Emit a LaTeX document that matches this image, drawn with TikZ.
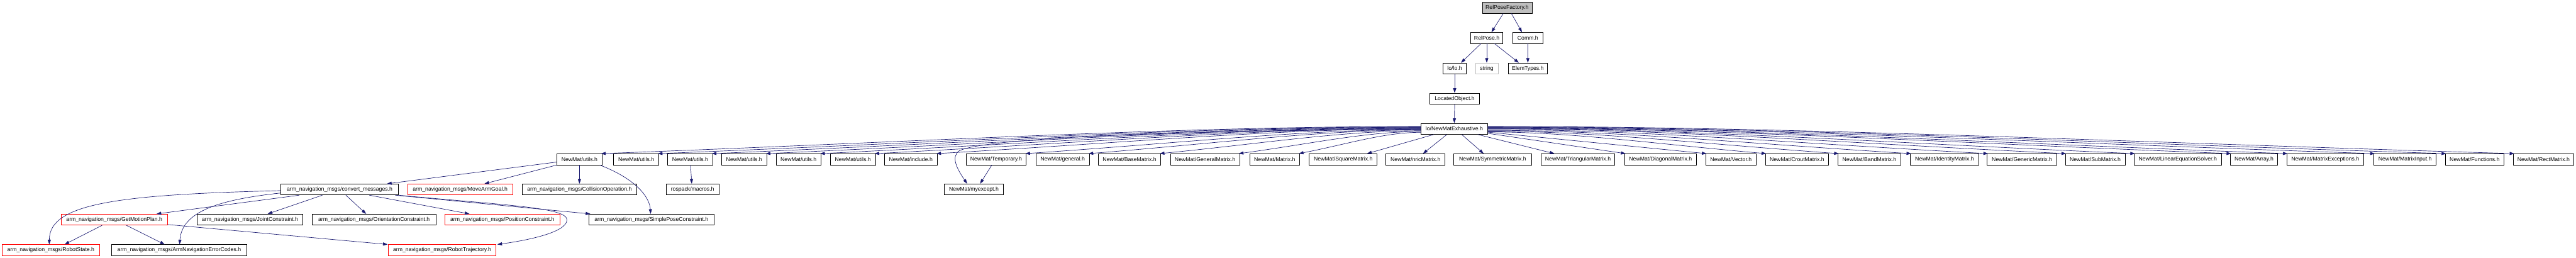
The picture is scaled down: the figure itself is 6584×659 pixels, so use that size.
\documentclass[tikz,border=0pt]{standalone}
\usepackage{fontspec}
\setmainfont{Liberation Sans}
\usetikzlibrary{arrows.meta,calc}
\definecolor{edgeblue}{HTML}{191970}
\definecolor{rootgrey}{HTML}{BFBFBF}
\begin{document}
\begin{tikzpicture}[x=1pt,y=-1pt,
 box/.style={draw=black,line width=1.2pt,minimum height=28pt,inner sep=0pt,font={\fontsize{14}{16}\selectfont}},
 redbox/.style={box,draw=red},
 greybox/.style={box,draw=rootgrey},
 rootbox/.style={box,fill=rootgrey},
 edge/.style={draw=edgeblue,line width=1.1pt,-{Triangle[length=12pt,width=8pt]}}]
\useasboundingbox (0,0) rectangle (6584,659);
% rows 0-4
\node[rootbox,minimum width=127pt] (rpf) at (3852,20) {RelPoseFactory.h};
\node[box,minimum width=82pt] (rp) at (3800,97) {RelPose.h};
\node[box,minimum width=77pt] (comm) at (3905,97) {Comm.h};
\node[box,minimum width=59pt] (io) at (3718,175) {lo/lo.h};
\node[greybox,minimum width=58pt] (str) at (3800,175) {string};
\node[box,minimum width=101pt] (et) at (3905,175) {ElemTypes.h};
\node[box,minimum width=127pt] (lo) at (3718,252) {LocatedObject.h};
\node[box,minimum width=170pt] (ex) at (3717,329) {lo/NewMatExhaustive.h};
% row 5
\node[box,minimum width=115pt] (utils1) at (1481,407) {NewMat/utils.h};
\node[box,minimum width=115pt] (utils2) at (1626,407) {NewMat/utils.h};
\node[box,minimum width=115pt] (utils3) at (1764,407) {NewMat/utils.h};
\node[box,minimum width=115pt] (utils4) at (1902,407) {NewMat/utils.h};
\node[box,minimum width=115pt] (utils5) at (2041,407) {NewMat/utils.h};
\node[box,minimum width=115pt] (utils6) at (2180,407) {NewMat/utils.h};
\node[box,minimum width=135pt] (inc) at (2328,407) {NewMat/include.h};
\node[box,minimum width=154pt] (tmp) at (2546,407) {NewMat/Temporary.h};
\node[box,minimum width=137pt] (gen) at (2716,407) {NewMat/general.h};
\node[box,minimum width=159pt] (bm) at (2887,407) {NewMat/BaseMatrix.h};
\node[box,minimum width=177pt] (gm) at (3080,407) {NewMat/GeneralMatrix.h};
\node[box,minimum width=128pt] (mat) at (3258,407) {NewMat/Matrix.h};
\node[box,minimum width=174pt] (sq) at (3433,407) {NewMat/SquareMatrix.h};
\node[box,minimum width=151pt] (nric) at (3618,407) {NewMat/nricMatrix.h};
\node[box,minimum width=198pt] (sym) at (3815,407) {NewMat/SymmetricMatrix.h};
\node[box,minimum width=188pt] (tri) at (4033,407) {NewMat/TriangularMatrix.h};
\node[box,minimum width=183pt] (diag) at (4244,407) {NewMat/DiagonalMatrix.h};
\node[box,minimum width=129pt] (vec) at (4424,407) {NewMat/Vector.h};
\node[box,minimum width=162pt] (crout) at (4593,407) {NewMat/CroutMatrix.h};
\node[box,minimum width=161pt] (band) at (4778,407) {NewMat/BandMatrix.h};
\node[box,minimum width=175pt] (ident) at (4970,407) {NewMat/IdentityMatrix.h};
\node[box,minimum width=178pt] (generic) at (5168,407) {NewMat/GenericMatrix.h};
\node[box,minimum width=153pt] (sub) at (5355,407) {NewMat/SubMatrix.h};
\node[box,minimum width=223pt] (lin) at (5566,407) {NewMat/LinearEquationSolver.h};
\node[box,minimum width=121pt] (arr) at (5761,407) {NewMat/Array.h};
\node[box,minimum width=197pt] (mexc) at (5943,407) {NewMat/MatrixExceptions.h};
\node[box,minimum width=159pt] (minp) at (6147,407) {NewMat/MatrixInput.h};
\node[box,minimum width=150pt] (func) at (6325,407) {NewMat/Functions.h};
\node[box,minimum width=154pt] (rect) at (6501,407) {NewMat/RectMatrix.h};
% row 6
\node[box,minimum width=300pt] (conv) at (868,484) {arm\_navigation\_msgs/convert\_messages.h};
\node[redbox,minimum width=269pt] (mag) at (1176,484) {arm\_navigation\_msgs/MoveArmGoal.h};
\node[box,minimum width=293pt] (col) at (1481,484) {arm\_navigation\_msgs/CollisionOperation.h};
\node[box,minimum width=135pt] (ros) at (1770,484) {rospack/macros.h};
\node[box,minimum width=151pt] (myex) at (2489,484) {NewMat/myexcept.h};
% row 7
\node[redbox,minimum width=272pt] (gmp) at (292,561) {arm\_navigation\_msgs/GetMotionPlan.h};
\node[box,minimum width=271pt] (jc) at (639,561) {arm\_navigation\_msgs/JointConstraint.h};
\node[box,minimum width=316pt] (oc) at (956,561) {arm\_navigation\_msgs/OrientationConstraint.h};
\node[redbox,minimum width=294pt] (pc) at (1284,561) {arm\_navigation\_msgs/PositionConstraint.h};
\node[box,minimum width=320pt] (spc) at (1665,561) {arm\_navigation\_msgs/SimplePoseConstraint.h};
% row 8
\node[redbox,minimum width=249pt] (rs) at (130,639) {arm\_navigation\_msgs/RobotState.h};
\node[box,minimum width=345pt] (anec) at (458,639) {arm\_navigation\_msgs/ArmNavigationErrorCodes.h};
\node[redbox,minimum width=275pt] (rt) at (1130,639) {arm\_navigation\_msgs/RobotTrajectory.h};
% top edges
\draw[edge] ([xshift=-10pt]rpf.south) -- ([xshift=12pt]rp.north);
\draw[edge] ([xshift=11pt]rpf.south) -- ([xshift=-15pt]comm.north);
\draw[edge] ([xshift=-15pt]rp.south) -- ([xshift=16pt]io.north);
\draw[edge] (rp.south) -- (str.north);
\draw[edge] ([xshift=20pt]rp.south) -- ([xshift=-23pt]et.north);
\draw[edge] (comm.south) -- (et.north);
\draw[edge] (io.south) -- (lo.north);
\draw[edge] (lo.south) -- (ex.north);
% fan to the left
\foreach \t/\dy in {utils1/6,utils2/5,utils3/4,utils4/3,utils5/2,utils6/1,inc/0,tmp/-2,gen/-3,bm/-5,gm/-7,mat/-9}{
  \draw[edge] let \p1=([yshift=\dy pt]ex.west), \p2=([xshift=-3pt]\t.north east) in
    (\p1) .. controls ({\x1+0.3*(\x2-\x1)},\y1) and ({\x2-0.4*(\x2-\x1)},{\y2+0.45*(\y1-\y2)}) .. (\p2);
}
% fan to the right
\foreach \t/\dy in {crout/-8,band/-6,ident/-4,generic/-2,sub/0,lin/1,arr/2,mexc/3,minp/4,func/5,rect/6}{
  \draw[edge] let \p1=([yshift=\dy pt]ex.east), \p2=([xshift=3pt]\t.north west) in
    (\p1) .. controls ({\x1+0.3*(\x2-\x1)},\y1) and ({\x2-0.4*(\x2-\x1)},{\y2+0.45*(\y1-\y2)}) .. (\p2);
}
% near targets
\draw[edge] ([xshift=33pt]ex.south west) -- ([xshift=61pt]sq.north);
\draw[edge] ([xshift=-19pt]ex.south) -- ([xshift=19pt]nric.north);
\draw[edge] ([xshift=19pt]ex.south) -- ([xshift=-23pt]sym.north);
\draw[edge] ([xshift=60pt]ex.south) -- ([xshift=-60pt]tri.north);
\draw[edge] ([yshift=3pt]ex.south east) -- ([xshift=3pt]diag.north west);
\draw[edge] ([yshift=6pt]ex.south east) -- ([xshift=3pt]vec.north west);
% to myexcept
\draw[edge] ([yshift=-1pt]ex.west) .. controls (3000,334) and (2520,352) .. (2452,385)
  .. controls (2430,400) and (2445,430) .. ([xshift=-17pt]myex.north);
\draw[edge] ([xshift=-11pt]tmp.south) -- ([xshift=16pt]myex.north);
% utils edges
\draw[edge] ([yshift=-7pt]utils1.west) -- ([xshift=121pt]conv.north);
\draw[edge] (utils1.south west) -- ([xshift=62pt]mag.north);
\draw[edge] (utils1.south) -- (col.north);
\draw[edge] ([xshift=52pt]utils1.south) .. controls (1620,455) and (1660,500) .. ([xshift=-2pt]spc.north);
\draw[edge] ([xshift=1pt]utils3.south) -- ([xshift=-2pt]ros.north);
% convert_messages edges
\draw[edge] ([yshift=-3pt]conv.west) .. controls (300,497) and (126,520) .. ([xshift=-4pt]rs.north);
\draw[edge] ([yshift=-9pt]conv.west) .. controls (560,510) and (465,540) .. ([xshift=1pt]anec.north);
\draw[edge] ([xshift=-103pt]conv.south) -- ([xshift=108pt]gmp.north);
\draw[edge] ([xshift=-44pt]conv.south) -- ([xshift=45pt]jc.north);
\draw[edge] ([xshift=16pt]conv.south) -- ([xshift=-20pt]oc.north);
\draw[edge] ([xshift=76pt]conv.south) -- ([xshift=-84pt]pc.north);
\draw[edge] ([xshift=142pt]conv.south) -- ([xshift=-156pt]spc.north);
\draw[edge] (conv.south east) .. controls (1300,525) and (1450,530) .. (1449,562)
  .. controls (1448,595) and (1340,615) .. ([xshift=3pt]rt.north east);
% GetMotionPlan edges
\draw[edge] ([xshift=-31pt]gmp.south) -- ([xshift=35pt]rs.north);
\draw[edge] ([xshift=31pt]gmp.south) -- ([xshift=-37pt]anec.north);
\draw[edge] ([yshift=2pt]gmp.south east) -- ([xshift=-1pt]rt.north west);
\end{tikzpicture}
\end{document}
